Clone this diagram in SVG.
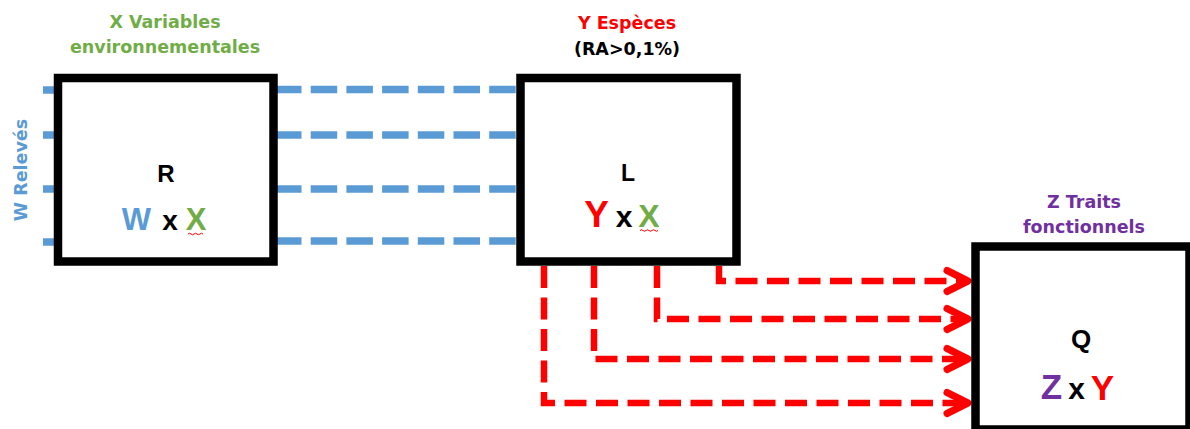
<svg xmlns="http://www.w3.org/2000/svg" width="1190" height="429" viewBox="0 0 1190 429">
<style>
  .box{fill:#fff;stroke:#000;stroke-width:8.5}
  .hd{font-family:"DejaVu Sans",sans-serif;font-weight:bold;font-size:17.5px;text-anchor:middle}
  .big{font-family:"Liberation Sans",Arial,sans-serif;font-weight:bold;text-anchor:middle}
  .blue{fill:#5B9BD5}
  .green{fill:#70AD47}
  .red{fill:#FF0000}
  .purple{fill:#7030A0}
  .blk{fill:#000}
  .bl{fill:none;stroke:#5B9BD5;stroke-width:7.5}
  .bd{stroke-dasharray:26.5 9.2}
  .rd{fill:none;stroke:#FF0000;stroke-width:6.5;stroke-dasharray:22 9.5}
  .sq{fill:none;stroke:#FF0000;stroke-width:1}
</style>
<defs>
  <marker id="chev" markerUnits="userSpaceOnUse" markerWidth="40" markerHeight="40" viewBox="-30 -20 40 40" refX="0" refY="0" orient="auto" overflow="visible">
    <path d="M-21,-10.5 L0,0 L-21,10.5" fill="none" stroke="#FF0000" stroke-width="7" stroke-linecap="round" stroke-linejoin="round"/>
  </marker>
</defs>

<g id="connectors">
  <path class="bl" d="M43,90 H60 M43,135 H60 M43,189 H60 M43,242 H60"/>
  <path class="bl bd" d="M275,89.5 H516 M275,135 H516 M275,189 H516 M275,241 H516"/>
  <path class="rd" d="M719,266 V281 H968" marker-end="url(#chev)"/>
  <path class="rd" d="M657,266 V319 H968" marker-end="url(#chev)"/>
  <path class="rd" d="M594,266 V359 H968" marker-end="url(#chev)"/>
  <path class="rd" d="M544,266 V403 H968" marker-end="url(#chev)"/>
</g>

<g id="node-R">
  <rect class="box" x="58" y="78" width="215.5" height="183.5"/>
  <text class="hd green" x="165" y="28">X Variables</text>
  <text class="hd green" x="165" y="53">environnementales</text>
  <text class="hd blue" transform="translate(26.5,170) rotate(-90)" font-size="18.5">W Relevés</text>
  <text class="big blk" x="166" y="182" font-size="24">R</text>
  <text class="big blue" x="136.5" y="230" font-size="31">W</text>
  <text class="big blk" x="170" y="230" font-size="28">x</text>
  <text class="big green" x="196" y="230" font-size="31">X</text>
  <path class="sq" d="M188,234 q1.5,-1.5 3,0 t3,0 t3,0 t3,0 t3,0"/>
</g>

<g id="node-L">
  <rect class="box" x="520.5" y="78" width="216" height="183.5"/>
  <text class="hd red" x="627" y="29">Y Espèces</text>
  <text class="hd blk" x="627" y="55">(RA&gt;0,1%)</text>
  <text class="big blk" x="628" y="181" font-size="23">L</text>
  <text class="big red" x="596.5" y="227" font-size="37">Y</text>
  <text class="big blk" x="624" y="227" font-size="30">x</text>
  <text class="big green" x="649" y="227" font-size="32">X</text>
  <path class="sq" d="M640,230.5 q1.5,-1.5 3,0 t3,0 t3,0 t3,0 t3,0 t3,0"/>
</g>

<g id="node-Q">
  <rect class="box" x="975.5" y="246.5" width="214" height="183"/>
  <text class="hd purple" x="1084" y="208">Z Traits</text>
  <text class="hd purple" x="1084" y="233">fonctionnels</text>
  <text class="big blk" x="1081" y="348" font-size="26">Q</text>
  <text class="big purple" x="1051.5" y="399" font-size="35">Z</text>
  <text class="big blk" x="1076.5" y="399" font-size="30">x</text>
  <text class="big red" x="1102.5" y="400" font-size="35">Y</text>
</g>
</svg>
